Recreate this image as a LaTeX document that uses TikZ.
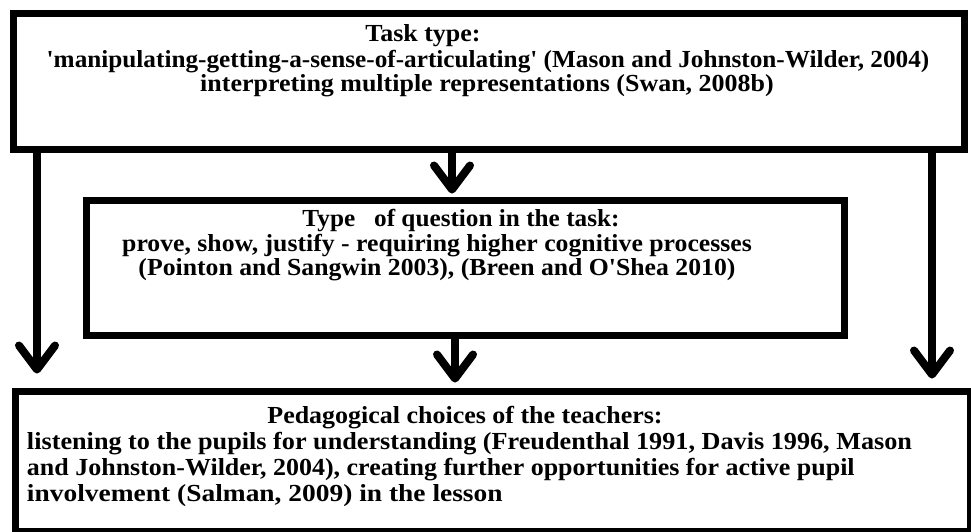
\documentclass[tikz,border=0pt]{standalone}
\usepackage{fontspec}
\setmainfont{Liberation Serif}
\usetikzlibrary{arrows.meta}
\newcommand{\hsx}[2]{\scalebox{#1}[1]{#2}}
\begin{document}
\begin{tikzpicture}[x=1pt,y=-1pt,
  box/.style={draw=black,line width=7pt,outer sep=0pt,inner sep=0pt,fill=white},
  txt/.style={inner sep=0pt,outer sep=0pt,anchor=base,font=\fontsize{24.5}{26}\selectfont\bfseries},
  txtl/.style={txt,anchor=base west},
  arr/.style={line width=8pt,-{Straight Barb[length=24pt,width=36pt,round]}}]
\useasboundingbox (0,0) rectangle (971,531);
\fill[white] (0,0) rectangle (971,531);
% boxes
\node[box,minimum width=951pt,minimum height=136pt] (top) at (489,81) {};
\node[box,minimum width=758pt,minimum height=134.5pt] (mid) at (465,267.75) {};
\node[box,minimum width=955pt,minimum height=140pt,anchor=north west] (bot) at (15,391.5) {};
% texts
\node[txt] (t1) at (423,41) {\hsx{1.06}{Task type:}};
\node[txt] (t2) at (488,67) {\hsx{1.03}{\textquotesingle manipulating-getting-a-sense-of-articulating\textquotesingle\ (Mason and Johnston-Wilder, 2004)}};
\node[txt] (t3) at (487,91) {\hsx{1.06}{interpreting multiple representations (Swan, 2008b)}};
\node[txt] (m1) at (461,226) {\hsx{1.03}{Type\ \ \ of question in the task:}};
\node[txt] (m2) at (437,251) {\hsx{1.05}{prove, show, justify - requiring higher cognitive processes}};
\node[txt] (m3) at (437,275) {\hsx{1.05}{(Pointon and Sangwin 2003), (Breen and O\textquotesingle Shea 2010)}};
\node[txt] (b1) at (465,423) {\hsx{1.06}{Pedagogical choices of the teachers:}};
\node[txtl] (b2) at (27,449) {\hsx{1.07}{listening to the pupils for understanding (Freudenthal 1991, Davis 1996, Mason}};
\node[txtl] (b3) at (27,475) {\hsx{1.06}{and Johnston-Wilder, 2004), creating further opportunities for active pupil}};
\node[txtl] (b4) at (27,501) {\hsx{1.12}{involvement (Salman, 2009) in the lesson}};
% arrows
\draw[arr] ([xshift=23.5pt]top.south west) -- ([xshift=22pt,yshift=18pt]bot.north west);
\draw[arr] ([xshift=-32.5pt]top.south east) -- ([xshift=-38pt,yshift=13pt]bot.north east);
\draw[arr] ([xshift=-37pt]top.south) -- ([xshift=-13pt,yshift=7pt]mid.north);
\draw[arr] ([xshift=-10pt]mid.south) -- ([xshift=-10pt,yshift=9pt]mid.south |- bot.north);
\end{tikzpicture}
\end{document}
